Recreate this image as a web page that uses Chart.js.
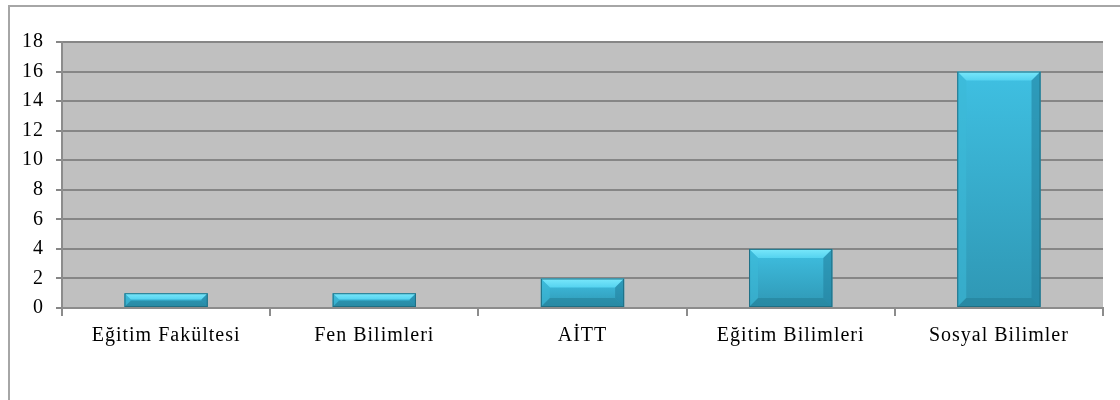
<!DOCTYPE html>
<html>
<head>
<meta charset="utf-8">
<script src="https://cdn.jsdelivr.net/npm/chart.js@4.4.0/dist/chart.umd.min.js"></script>
<style>
  html,body{margin:0;padding:0;background:#fff;}
  #wrap{position:relative;width:1120px;height:400px;overflow:hidden;}
  #frame{position:absolute;left:8px;top:5px;width:1200px;height:500px;border:2px solid #a6a6a6;box-sizing:border-box;}
  canvas{position:absolute;left:0;top:0;}
</style>
</head>
<body>
<div id="wrap">
  <div id="frame"></div>
  <canvas id="chart" width="1120" height="400"></canvas>
</div>
<script>
// ===== DATA =====
const categories = ["Eğitim Fakültesi","Fen Bilimleri","AİTT","Eğitim Bilimleri","Sosyal Bilimler"];
const values = [1,1,2,4,16];
const yTicks = [0,2,4,6,8,10,12,14,16,18];

const FONT = "'Liberation Serif','DejaVu Serif',serif";

// ===== PLOT BACKGROUND (+ wider letter spacing, Palatino look) =====
const plotBg = {
  id:'plotBg',
  beforeUpdate(c){c.ctx.letterSpacing='1px';},
  beforeDraw(c){
    const a=c.chartArea,ctx=c.ctx;
    ctx.letterSpacing='1px';
    ctx.save();ctx.fillStyle='#c0c0c0';
    ctx.fillRect(a.left,a.top,a.right-a.left,a.bottom-a.top);
    ctx.restore();
  }
};

// ===== BEVELLED BARS =====
const bevel = {
  id:'bevel',
  afterDatasetsDraw(c){
    const ctx=c.ctx;
    c.getDatasetMeta(0).data.forEach(bar=>{
      const l=bar.x-bar.width/2,r=bar.x+bar.width/2,t=bar.y,b=bar.base;
      const h=b-t,w=r-l,d=Math.min(9,h/2.2,w/4);
      const g=ctx.createLinearGradient(0,t,0,b);
      g.addColorStop(0,'#3fc0e2');g.addColorStop(1,'#2f97b4');
      ctx.save();
      ctx.fillStyle=g;ctx.fillRect(l,t,w,h);
      const poly=(pts,col)=>{ctx.beginPath();ctx.moveTo(pts[0],pts[1]);for(let i=2;i<pts.length;i+=2)ctx.lineTo(pts[i],pts[i+1]);ctx.closePath();ctx.fillStyle=col;ctx.fill();};
      const tg=ctx.createLinearGradient(0,t,0,t+d);
      tg.addColorStop(0,'#7ae8fb');tg.addColorStop(1,'#55d3f0');
      poly([l,t,r,t,r-d,t+d,l+d,t+d],tg);
      poly([l,t,l+d,t+d,l+d,b-d,l,b],'rgba(60,185,215,0.6)');
      poly([r,t,r,b,r-d,b-d,r-d,t+d],'rgba(35,130,160,0.6)');
      poly([l,b,l+d,b-d,r-d,b-d,r,b],'rgba(35,125,150,0.55)');
      ctx.strokeStyle='#1f6f84';ctx.lineWidth=1;
      ctx.strokeRect(l+0.5,t+0.5,w-1,h-1);
      ctx.restore();
    });
  }
};

new Chart(document.getElementById('chart'),{
  type:'bar',
  data:{labels:categories,datasets:[{data:values,backgroundColor:'rgba(0,0,0,0)',borderWidth:0,barPercentage:0.8,categoryPercentage:0.5}]},
  options:{
    responsive:false,animation:false,
    layout:{padding:{left:0,right:17,top:42,bottom:0}},
    plugins:{legend:{display:false},tooltip:{enabled:false}},
    scales:{
      x:{
        grid:{display:true,drawOnChartArea:false,color:'#8c8c8c',lineWidth:2,tickLength:8,offset:true},
        border:{display:true,color:'#8c8c8c',width:2},
        ticks:{color:'#000',font:{family:FONT,size:20},padding:8,maxRotation:0},
        afterFit(s){s.height=92;}
      },
      y:{
        min:0,max:18,
        afterBuildTicks(s){s.ticks=yTicks.map(v=>({value:v}));},
        grid:{color:'#868686',lineWidth:2,tickLength:6},
        border:{display:true,color:'#8c8c8c',width:2},
        ticks:{color:'#000',font:{family:FONT,size:20},padding:12},
        afterFit(s){s.width=62;}
      }
    }
  },
  plugins:[plotBg,bevel]
});
</script>
</body>
</html>
